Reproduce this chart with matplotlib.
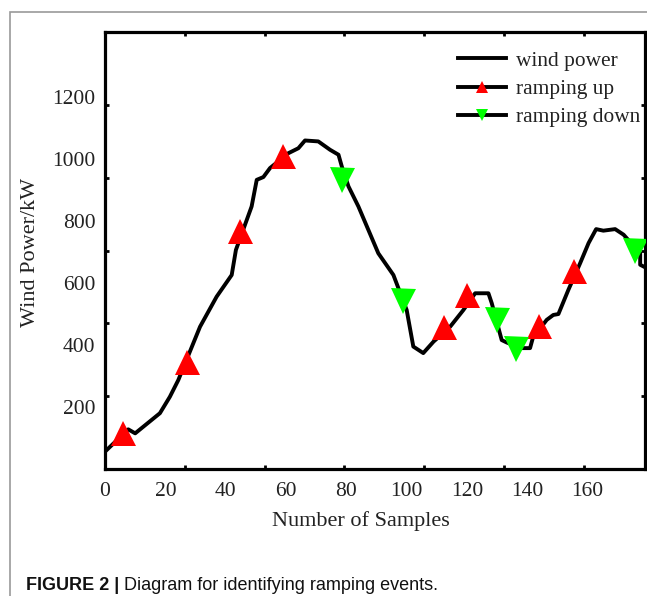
import matplotlib
matplotlib.use('Agg')
import matplotlib.pyplot as plt
import numpy as np
from matplotlib.lines import Line2D
from matplotlib.patches import Rectangle

# ---- data ----
curve_x = [0, 7.7, 10, 18.2, 21.5, 24.3, 31.5, 37, 42, 43.4, 48.6, 50.3, 52.5, 54.7,
           60.8, 64.1, 66.3, 70.7, 74.6, 77.4, 78.5, 80.7, 84, 90.6, 95.6, 100,
           102.2, 105.5, 108.9, 114.4, 118.8, 122.7, 127.1, 128.2, 131.5, 133.2,
           138.1, 140.9, 141.8, 146.4, 148.6, 150.3, 153.6, 157.5, 160.3, 162.8,
           165.2, 169.1, 171.9, 177.4, 177.4, 179.6]
curve_y = [57, 129, 116, 181, 234, 288, 460, 557, 627, 708, 848, 934, 943, 972,
           1020, 1036, 1061, 1058, 1031, 1015, 977, 913, 848, 697, 627, 514,
           396, 375, 412, 460, 514, 568, 568, 536, 417, 409,
           391, 391, 423, 482, 498, 501, 579, 665, 730, 775,
           770, 775, 757, 697, 660, 649]

up_x = [5.9, 27.3, 44.7, 58.9, 112.3, 120.1, 143.9, 155.6]
up_y = [116, 347, 769, 1012, 458, 563, 461, 639]
down_x = [78.4, 98.9, 129.8, 136.2, 175.6]
down_y = [934, 544, 482, 387, 706]

xtick_vals = [0, 20, 40, 60, 80, 100, 120, 140, 160]
xtick_labels = ['0', '20', '40', '60', '80', '100', '120', '140', '160']
ytick_vals = [200, 400, 600, 800, 1000, 1200]
ytick_labels = ['200', '400', '600', '800', '1000', '1200']

legend_labels = ['wind power', 'ramping up', 'ramping down']
xlabel = 'Number of Samples'
ylabel = 'Wind Power/kW'
caption_bold = 'FIGURE 2 |'
caption_text = 'Diagram for identifying ramping events.'

# ---- figure ----
serif = ['Liberation Serif', 'DejaVu Serif']
sans = ['Liberation Sans', 'DejaVu Sans']
txtc = '#222222'

fig = plt.figure(figsize=(6.47, 5.96), dpi=100)
W, H = 647, 596

# outer border
fig.patches.append(Rectangle((10 / W, -0.05), 1.2, 1 - 12 / H + 0.05,
                             transform=fig.transFigure, fill=False,
                             edgecolor='#9a9a9a', linewidth=1.2))

ax = fig.add_axes([105 / W, (H - 469.3) / H, 540 / W, 437.6 / H])

ax.plot(curve_x, curve_y, color='black', lw=2.8, zorder=2)
ax.plot(up_x, up_y, ls='none', marker='^', ms=18, color='#ff0000', mew=0, zorder=3)
ax.plot(down_x, down_y, ls='none', marker='v', ms=18, color='#00ff00', mew=0, zorder=3)

ax.set_xlim(0, 179)
ax.set_ylim(0, 1412)

for s in ax.spines.values():
    s.set_linewidth(2.3)
    s.set_color('black')

# tick marks (unlabelled)
ax.set_xticks(np.arange(1, 7) * 26.45)
ax.set_yticks(np.arange(1, 6) * 235.3)
ax.tick_params(which='major', direction='in', length=3, width=2,
               top=True, right=True, labelbottom=False, labelleft=False)
# labels (no marks)
ax.set_xticks(xtick_vals, minor=True)
ax.set_xticklabels(xtick_labels, minor=True)
ax.set_yticks(ytick_vals, minor=True)
ax.set_yticklabels(ytick_labels, minor=True)
ax.tick_params(which='minor', length=0, labelsize=15.5, labelcolor=txtc)
ax.tick_params(axis='x', which='minor', pad=9)
ax.tick_params(axis='y', which='minor', pad=7)
for t in ax.get_xticklabels(minor=True) + ax.get_yticklabels(minor=True):
    t.set_family(serif)

fig.text(361 / W, 1 - 521 / H, xlabel, ha='center', va='center',
         family=serif, fontsize=16, color=txtc)
fig.text(31 / W, 1 - 252 / H, ylabel, ha='center', va='center', rotation=90,
         family=serif, fontsize=16, color=txtc)

handles = [
    Line2D([], [], color='black', lw=2.8),
    Line2D([], [], color='black', lw=2.8, marker='^', ms=9, mfc='#ff0000', mec='#ff0000', mew=0),
    Line2D([], [], color='black', lw=2.8, marker='v', ms=9, mfc='#00ff00', mec='#00ff00', mew=0),
]
leg = ax.legend(handles, legend_labels, loc='upper left',
                bbox_to_anchor=(458 / W, 1 - 51 / H), bbox_transform=fig.transFigure,
                frameon=False, borderpad=0, borderaxespad=0, handlelength=2.25,
                handletextpad=0.45, labelspacing=0.38, numpoints=1,
                prop={'family': serif, 'size': 15.4})
for t in leg.get_texts():
    t.set_color(txtc)

cap_fs = 13
tb = fig.text(26 / W, 1 - 586 / H, caption_bold, ha='left', va='center',
              family=sans, fontsize=cap_fs, fontweight='bold', color='#111111')
renderer = fig.canvas.get_renderer()
bb = tb.get_window_extent(renderer)
fig.text((bb.x1 + 5) / W, 1 - 586 / H, caption_text, ha='left', va='center',
         family=sans, fontsize=cap_fs, color='#111111')

fig.savefig('out.png', dpi=100)
